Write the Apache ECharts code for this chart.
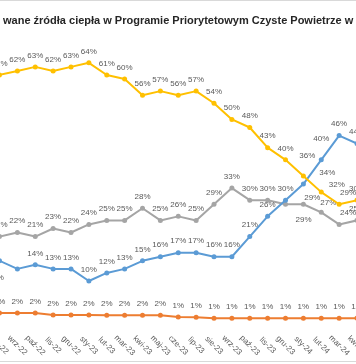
<!DOCTYPE html>
<html><head><meta charset="utf-8">
<script src="https://cdn.jsdelivr.net/npm/echarts@6/dist/echarts.min.js"></script>
<style>html,body{margin:0;padding:0;background:#fff;overflow:hidden}#c{width:356px;height:364px}</style>
</head><body><div id="c"></div><script>
// ---- data ----
const categories = ['sie-22','wrz-22','paź-22','lis-22','gru-22','sty-23','lut-23','mar-23','kwi-23','maj-23','cze-23','lip-23','sie-23','wrz-23','paź-23','lis-23','gru-23','sty-24','lut-24','mar-24','kwi-24'];
const yellowSeries = [61,62,63,62,63,64,61,60,56,57,56,57,54,50,48,43,40,36,32,29,30];
const graySeries   = [21,22,21,23,22,24,25,25,28,25,26,25,29,33,30,30,29,29,27,24,25];
const blueSeries   = [15,13,14,13,13,10,12,13,15,16,17,17,16,16,21,26,30,34,40,46,44];
const orangeSeries = [2.1,2.1,2.1,1.6,1.6,1.6,1.5,1.5,1.5,1.5,1.1,1.0,0.8,0.8,0.8,0.8,0.8,0.8,0.8,0.8,0.8];
const titleText = 'wane źródła ciepła w Programie Priorytetowym Czyste Powietrze w';

// ---- label placement overrides (index -> label options) ----
const yellowLabels = {17:{offset:[4,-9]}, 18:{position:'right',offset:[0,-7]}, 19:{offset:[9,0]}};
const grayLabels   = {16:{position:'bottom',offset:[18,4]}, 17:{offset:[9,5]}, 18:{offset:[7,2]}, 19:{offset:[9,0]}};
const blueLabels   = {0:{position:'left',offset:[-4,10]}, 1:{position:'left',offset:[-6,9]}, 17:{offset:[24,0]}, 18:{offset:[0,-10]}};

function build(values, over){
  return values.map((v,i)=> over[i] ? {value:v, label:over[i]} : v);
}
const fmt = p => Math.round(p.value) + '%';
const labelBase = {show:true, position:'top', distance:5, formatter:fmt, color:'#595959', fontSize:8, fontFamily:'Liberation Sans'};
function line(name, color, values, over, z){
  return {name, type:'line', data:build(values, over), symbol:'circle', symbolSize:5,
    lineStyle:{color, width:2}, itemStyle:{color}, label:labelBase, z, animation:false};
}

const chart = echarts.init(document.getElementById('c'), null, {renderer:'canvas'});
chart.setOption({
  animation:false,
  backgroundColor:'#fff',
  title:{text:titleText, left:-2, top:10, textStyle:{fontSize:11, fontWeight:'bold', color:'#262626', fontFamily:'Liberation Sans'}},
  graphic:[
    {type:'line', shape:{x1:0,y1:0.5,x2:356,y2:0.5}, style:{stroke:'#d9d9d9', lineWidth:1}},
    {type:'line', shape:{x1:0,y1:361.5,x2:356,y2:361.5}, style:{stroke:'#d9d9d9', lineWidth:1}}
  ],
  grid:{left:-0.5, right:-1, top:38.6, bottom:42.6, containLabel:false, outerBoundsMode:'none'},
  xAxis:{type:'category', data:categories, boundaryGap:false,
    axisLine:{show:false}, axisTick:{show:false}, splitLine:{show:false},
    axisLabel:{interval:0, rotate:-45, align:'center', verticalAlign:'middle', margin:24, color:'#595959', fontSize:8, fontFamily:'Liberation Sans'}},
  yAxis:{type:'value', min:0, max:70, show:false, splitLine:{show:false}},
  series:[
    line('seria pomarańczowa', '#ED7D31', orangeSeries, {}, 2),
    line('seria szara', '#A5A5A5', graySeries, grayLabels, 3),
    line('seria niebieska', '#5B9BD5', blueSeries, blueLabels, 4),
    line('seria żółta', '#FFC000', yellowSeries, yellowLabels, 5)
  ]
});
</script></body></html>
